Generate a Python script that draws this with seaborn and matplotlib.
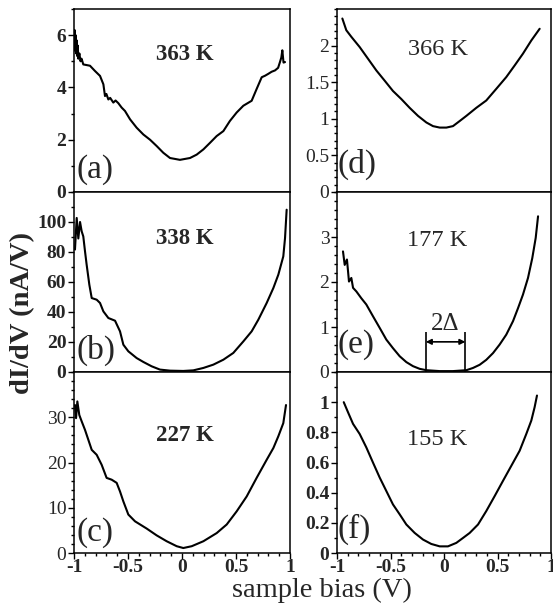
import matplotlib
matplotlib.use("Agg")
import matplotlib.pyplot as plt
import seaborn as sns
from matplotlib.ticker import MultipleLocator, FuncFormatter

# ---------------- data ----------------
a_x = [-1.0, -0.995, -0.99, -0.985, -0.98, -0.975, -0.97, -0.965, -0.96, -0.95, -0.94, -0.93, -0.914,
       -0.852, -0.806, -0.759, -0.728, -0.713, -0.70, -0.682, -0.665, -0.636, -0.615, -0.590, -0.559, -0.528,
       -0.481, -0.420, -0.358, -0.296, -0.235, -0.173, -0.111, -0.019, 0.074, 0.136, 0.198,
       0.259, 0.321, 0.383, 0.444, 0.506, 0.568, 0.645, 0.691, 0.738, 0.77, 0.799, 0.83, 0.861,
       0.89, 0.907, 0.92, 0.929, 0.94, 0.954]
a_y = [5.9, 6.2, 5.4, 6.0, 5.3, 5.8, 5.2, 5.6, 5.1, 5.3, 5.0, 5.1, 4.88,
       4.83, 4.63, 4.44, 4.12, 3.67, 3.75, 3.54, 3.6, 3.42, 3.5, 3.40, 3.23, 3.10,
       2.78, 2.46, 2.20, 2.00, 1.76, 1.50, 1.30, 1.23, 1.30, 1.43, 1.63,
       1.88, 2.14, 2.33, 2.72, 3.04, 3.30, 3.49, 3.94, 4.39, 4.45, 4.52, 4.60, 4.65,
       4.75, 4.97, 5.15, 5.42, 4.95, 4.97]

b_x = [-0.991, -0.975, -0.960, -0.944, -0.929, -0.914, -0.898, -0.883, -0.858, -0.836, -0.79, -0.759,
       -0.728, -0.682, -0.620, -0.574, -0.543, -0.497, -0.420, -0.358, -0.281, -0.204, -0.111, 0.012,
       0.105, 0.198, 0.290, 0.383, 0.475, 0.568, 0.645, 0.707, 0.784, 0.846, 0.892, 0.938, 0.954, 0.969]
b_y = [81.6, 102.7, 89.0, 100.0, 93.8, 90.4, 80.4, 71.6, 58.2, 49.3, 48.2, 46.0,
       40.4, 36.0, 34.2, 27.1, 18.2, 13.8, 9.3, 6.7, 3.8, 1.6, 0.9, 0.7,
       1.1, 2.7, 4.9, 8.2, 12.7, 20.4, 27.1, 34.9, 46.0, 56.0, 64.9, 77.1, 89.3, 108.2]

c_x = [-0.991, -0.981, -0.969, -0.951, -0.929, -0.898, -0.867, -0.836, -0.790, -0.744, -0.698, -0.651,
       -0.605, -0.574, -0.543, -0.497, -0.435, -0.327, -0.235, -0.142, -0.049, 0.012, 0.090, 0.198,
       0.321, 0.414, 0.506, 0.599, 0.691, 0.784, 0.846, 0.892, 0.938, 0.963]
c_y = [32.7, 29.8, 33.5, 30.5, 29.1, 27.2, 25.0, 22.8, 21.7, 19.5, 16.6, 16.2,
       15.5, 13.6, 11.4, 8.5, 7.0, 5.4, 3.9, 2.6, 1.5, 1.1, 1.5, 2.6,
       4.4, 6.3, 9.2, 12.5, 16.6, 20.6, 23.2, 25.8, 28.7, 32.7]

d_x = [-0.950, -0.913, -0.866, -0.788, -0.710, -0.632, -0.554, -0.477, -0.399, -0.321, -0.243, -0.165,
       -0.103, -0.040, 0.022, 0.084, 0.147, 0.209, 0.302, 0.395, 0.489, 0.582, 0.661, 0.738, 0.816, 0.894]
d_y = [2.37, 2.21, 2.12, 1.98, 1.82, 1.66, 1.52, 1.38, 1.27, 1.15, 1.04, 0.95,
       0.90, 0.88, 0.88, 0.90, 0.97, 1.04, 1.15, 1.25, 1.41, 1.57, 1.73, 1.89, 2.07, 2.23]

e_x = [-0.944, -0.928, -0.907, -0.888, -0.866, -0.850, -0.819, -0.773, -0.726, -0.664, -0.601, -0.539,
       -0.477, -0.414, -0.352, -0.290, -0.227, -0.165, -0.040, 0.084, 0.209, 0.271, 0.333, 0.395,
       0.458, 0.520, 0.582, 0.645, 0.692, 0.738, 0.785, 0.825, 0.857, 0.879]
e_y = [2.68, 2.38, 2.50, 2.01, 2.09, 1.87, 1.79, 1.64, 1.50, 1.24, 0.98, 0.72,
       0.53, 0.35, 0.22, 0.13, 0.07, 0.04, 0.02, 0.02, 0.04, 0.09, 0.16, 0.27,
       0.42, 0.61, 0.83, 1.13, 1.42, 1.72, 2.09, 2.53, 2.98, 3.46]

f_x = [-0.937, -0.897, -0.850, -0.788, -0.726, -0.664, -0.601, -0.539, -0.477, -0.414, -0.352, -0.274,
       -0.196, -0.119, -0.040, 0.037, 0.115, 0.178, 0.240, 0.318, 0.395, 0.474, 0.551, 0.629,
       0.707, 0.769, 0.816, 0.847, 0.869]
f_y = [1.00, 0.933, 0.856, 0.789, 0.70, 0.60, 0.50, 0.411, 0.322, 0.256, 0.189, 0.133,
       0.089, 0.06, 0.044, 0.044, 0.067, 0.10, 0.133, 0.189, 0.278, 0.378, 0.478, 0.578,
       0.678, 0.789, 0.878, 0.967, 1.044]

temps = ["363 K", "338 K", "227 K", "366 K", "177 K", "155 K"]
letters = ["(a)", "(b)", "(c)", "(d)", "(e)", "(f)"]
ylims = [7, 120, 40, 2.5, 4, 1.2]
ymajor = [2, 20, 10, 0.5, 1, 0.2]
yminor = [1, 10, 2, 0.1, 0.2, 0.1]
gap_left, gap_right, gap_h, arrow_h = -0.17, 0.20, 0.9, 0.67

series = [(a_x, a_y), (b_x, b_y), (c_x, c_y), (d_x, d_y), (e_x, e_y), (f_x, f_y)]

# ---------------- style ----------------
sns.set_style("ticks")
plt.rcParams["font.family"] = ["Liberation Serif", "DejaVu Serif"]

fig = plt.figure(figsize=(5.53, 6.05), dpi=100)
lefts = [74 / 553, 337 / 553]
widths = [216 / 553, 214 / 553]
rows = [(9, 192), (192, 372), (372, 553)]

temp_pos = [(0.514, 0.754), (0.514, 0.742), (0.514, 0.649),
            (0.47, 0.777), (0.47, 0.733), (0.47, 0.627)]
let_pos = [(0.010, 0.125), (0.010, 0.121), (0.010, 0.112),
           (0.003, 0.150), (0.003, 0.152), (0.003, 0.129)]
tick_bold = [True, True, False, False, False, True]
temp_bold = [True, True, True, False, False, False]

fmt = FuncFormatter(lambda v, p: ("%g" % v).replace("\u2212", "-"))

for i, (xs, ys) in enumerate(series):
    col, row = divmod(i, 3)
    top, bot = rows[row]
    ax = fig.add_axes([lefts[col], 1 - bot / 605, widths[col], (bot - top) / 605])
    sns.lineplot(x=xs, y=ys, ax=ax, color="black", lw=1.5, estimator=None, sort=False)
    ax.set_xlim(-1, 1)
    ax.set_ylim(0, ylims[i])
    ax.yaxis.set_major_locator(MultipleLocator(ymajor[i]))
    ax.yaxis.set_minor_locator(MultipleLocator(yminor[i]))
    ax.xaxis.set_major_locator(MultipleLocator(0.5))
    ax.xaxis.set_minor_locator(MultipleLocator(0.1))
    ax.yaxis.set_major_formatter(fmt)
    ax.xaxis.set_major_formatter(fmt)
    for s in ax.spines.values():
        s.set_linewidth(1.1)
        s.set_color("black")
    ax.tick_params(which="both", direction="out", color="black", width=1.0,
                   top=False, right=False, pad=1.5, labelsize=14)
    ax.tick_params(which="major", length=4)
    ax.tick_params(which="minor", length=2)
    if row < 2:
        ax.tick_params(axis="x", which="both", bottom=False, labelbottom=False)
    else:
        ax.tick_params(axis="x", pad=0.5)
        for lab in ax.get_xticklabels():
            lab.set_fontweight("bold")
    yt = [t for t in ax.get_yticks() if t < ylims[i] - 1e-9 and t >= 0]
    ax.set_yticks(yt)
    if tick_bold[i]:
        for lab in ax.get_yticklabels():
            lab.set_fontweight("bold")
    ax.set_xlabel("")
    ax.set_ylabel("")
    tx, ty = temp_pos[i]
    ax.text(tx, ty, temps[i], transform=ax.transAxes, ha="center", va="center",
            fontsize=16.5 if temp_bold[i] else 17.5,
            fontweight="bold" if temp_bold[i] else "normal")
    lx, ly = let_pos[i]
    ax.text(lx, ly, letters[i], transform=ax.transAxes, ha="left", va="center", fontsize=24)
    if i == 4:
        ax.vlines([gap_left, gap_right], 0, gap_h, color="black", lw=1.2)
        ax.annotate("", xy=(gap_left, arrow_h), xytext=(gap_right, arrow_h),
                    arrowprops=dict(arrowstyle="<|-|>", color="black", lw=1.2,
                                    mutation_scale=8, shrinkA=0, shrinkB=0))
        ax.text((gap_left + gap_right) / 2, gap_h - 0.07, "2\u0394", ha="center", va="bottom",
                fontsize=18)

fig.text(0.040, 0.482, "dI/dV (nA/V)", rotation=90, ha="center", va="center",
         fontsize=20.5, fontweight="bold")
fig.text(0.582, 0.004, "sample bias (V)", ha="center", va="bottom", fontsize=20.5)

fig.savefig("out.png", dpi=100)
